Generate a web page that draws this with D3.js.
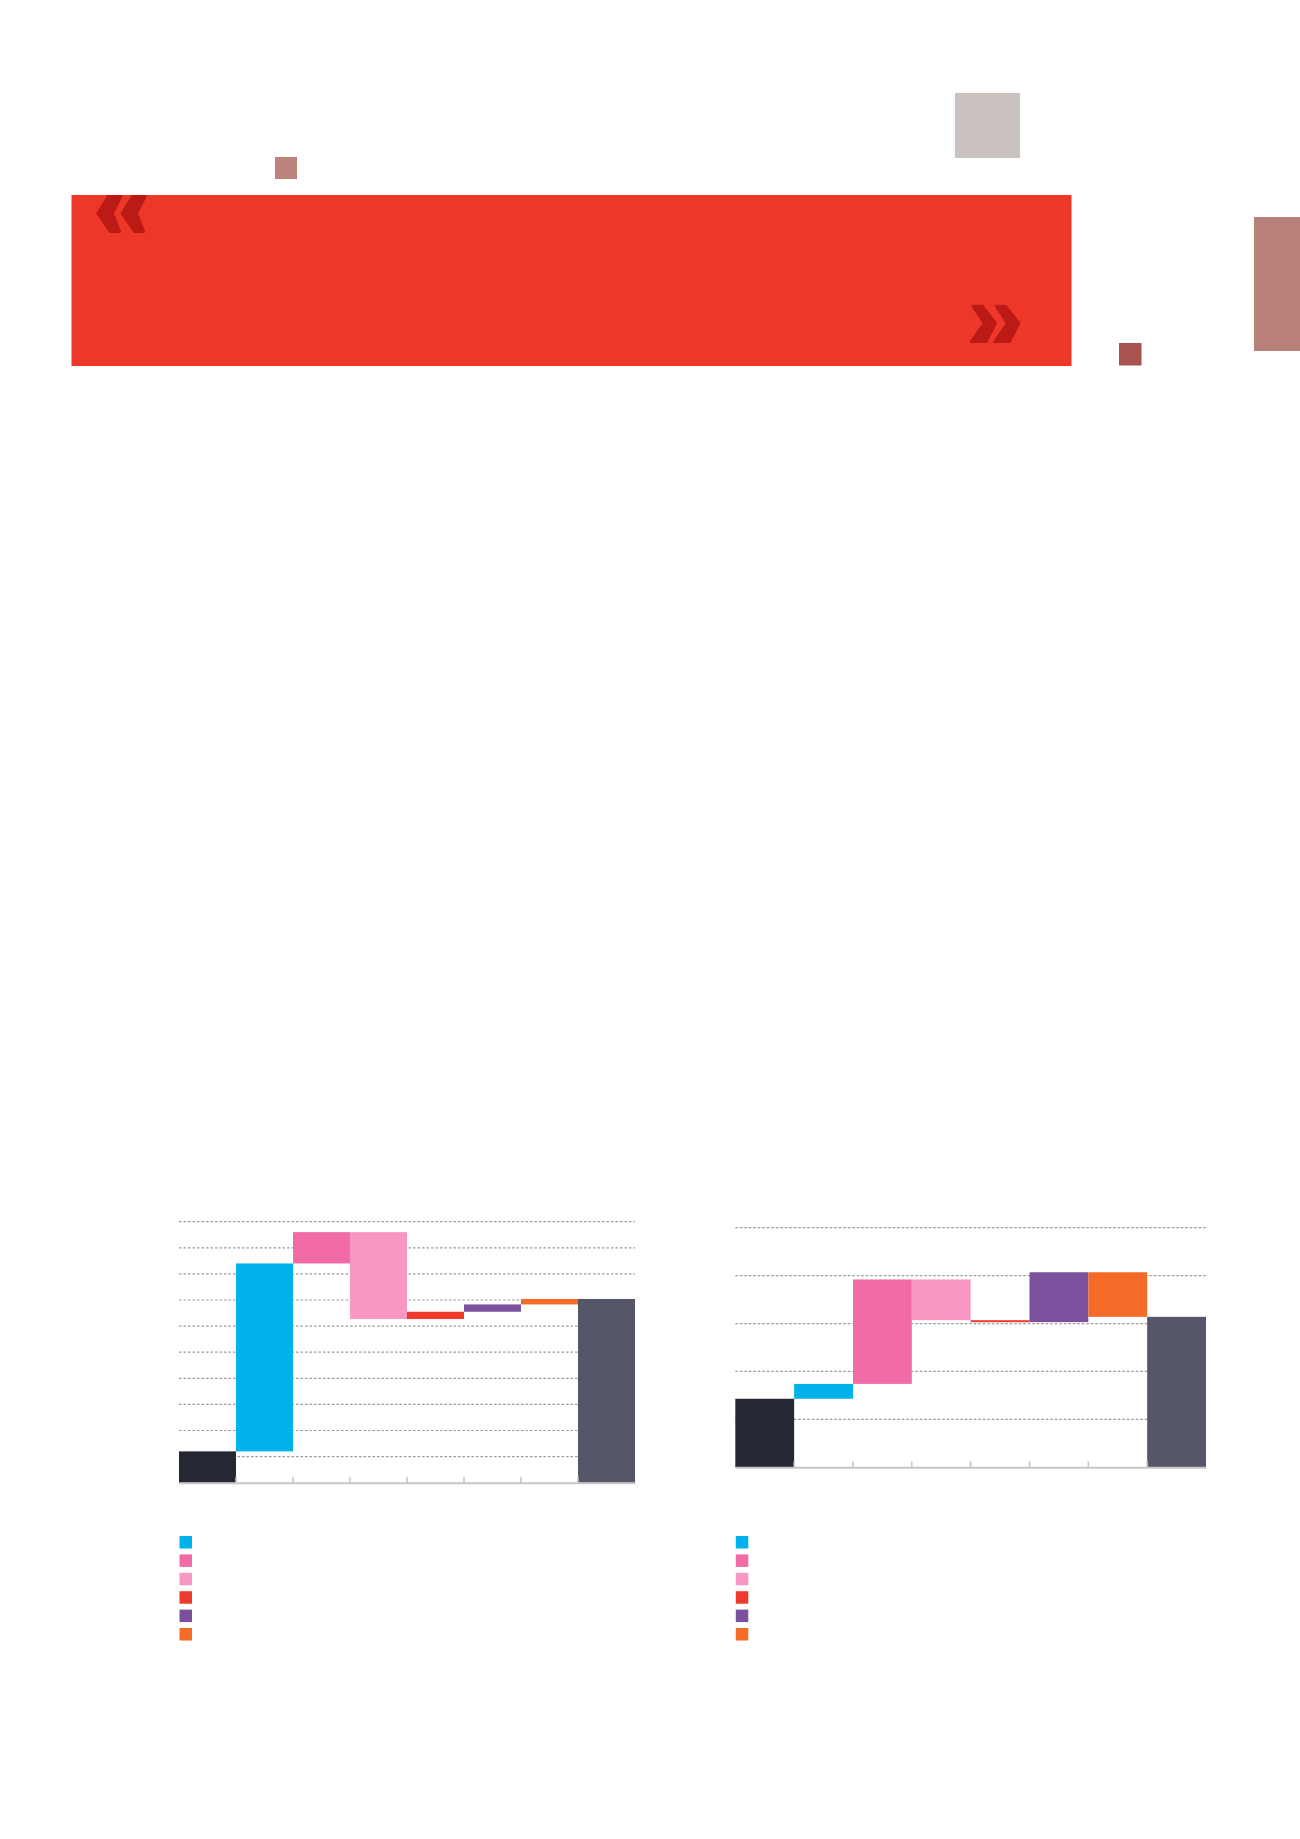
<!DOCTYPE html>
<html>
<head>
<meta charset="utf-8">
<script src="https://cdn.jsdelivr.net/npm/d3@7"></script>
<style>
  body { margin: 0; background: #fff; }
  svg { display: block; }
</style>
</head>
<body>
<div id="svg-content"></div>
<script>
// left chart: opening value, six movements, closing value
var leftSteps = ['open', 'a', 'b', 'c', 'd', 'e', 'f', 'close'];
var leftStart = 12.0;
var leftDeltas = [72.0, 12.0, -33.3, 2.8, 2.8, 2.1];
var leftTicks = [0, 10, 20, 30, 40, 50, 60, 70, 80, 90, 100];

// right chart
var rightSteps = ['open', 'a', 'b', 'c', 'd', 'e', 'f', 'close'];
var rightStart = 14.3;
var rightDeltas = [3.1, 21.8, -8.5, -0.4, 10.4, -9.3];
var rightTicks = [0, 10, 20, 30, 40, 50];

var stepColors = ['#252733', '#00b2eb', '#f16ca7', '#f898c2', '#ee3a2c', '#7b519d', '#f46b27', '#565669'];
var legendColors = ['#00b2eb', '#f16ca7', '#f898c2', '#ee3a2c', '#7b519d', '#f46b27'];

var svg = d3.select('#svg-content').append('svg').attr('width', 1300).attr('height', 1839);

// page decoration
svg.append('rect').attr('x', 275).attr('y', 157).attr('width', 22).attr('height', 22).attr('fill', '#bc827c');
svg.append('rect').attr('x', 955).attr('y', 93).attr('width', 65).attr('height', 65).attr('fill', '#cac2bf');
svg.append('rect').attr('x', 71.5).attr('y', 195).attr('width', 1000).attr('height', 171).attr('fill', '#ec3729');
svg.append('rect').attr('x', 1119).attr('y', 343).attr('width', 22.5).attr('height', 22.5).attr('fill', '#a85252');
svg.append('rect').attr('x', 1254).attr('y', 217).attr('width', 46).attr('height', 134).attr('fill', '#ba807a');

function chevron(pts, dx) {
    return 'M' + pts.map(function (p) { return (p[0] + dx) + ',' + p[1]; }).join('L') + 'Z';
}
var openQuote = [[108.5, 196], [121.5, 196], [112.5, 213.3], [119.8, 231.7], [110.3, 231.7], [97.5, 213.3]];
var closeQuote = [[972.7, 306], [982.3, 306], [995.8, 323.3], [986.3, 341.7], [971.2, 341.7], [984, 323.3]];
[0, 24.2].forEach(function (dx) {
    svg.append('path').attr('d', chevron(openQuote, dx)).attr('fill', '#bb1a17').attr('stroke', '#bb1a17').attr('stroke-linejoin', 'round').attr('stroke-width', 2.5);
});
[0, 23.3].forEach(function (dx) {
    svg.append('path').attr('d', chevron(closeQuote, dx)).attr('fill', '#bb1a17').attr('stroke', '#bb1a17').attr('stroke-linejoin', 'round').attr('stroke-width', 2.5);
});
// clip the top of the opening quote at the banner edge
svg.append('rect').attr('x', 90).attr('y', 185).attr('width', 70).attr('height', 10).attr('fill', '#fff');

function waterfall(start, deltas) {
    var rows = [{ y0: 0, y1: start }];
    var level = start;
    deltas.forEach(function (d) {
        rows.push({ y0: level, y1: level + d });
        level += d;
    });
    rows.push({ y0: 0, y1: level });
    return rows;
}

function drawChart(opts) {
    var g = svg.append('g');
    var x = d3.scaleBand().domain(opts.steps).range([opts.left, opts.right]).padding(0);
    var y = d3.scaleLinear().domain([0, d3.max(opts.ticks)]).range([opts.bottom, opts.top]);
    var rows = waterfall(opts.start, opts.deltas);

    // dotted gridlines
    g.selectAll('line.grid')
        .data(opts.ticks.slice(1))
        .enter()
        .append('line')
        .attr('class', 'grid')
        .attr('x1', opts.left)
        .attr('x2', opts.right)
        .attr('y1', function (d) { return y(d); })
        .attr('y2', function (d) { return y(d); })
        .attr('stroke', '#9a9a9a')
        .attr('stroke-width', 1.2)
        .attr('stroke-dasharray', '2.5,2');

    g.selectAll('rect.bar')
        .data(rows)
        .enter()
        .append('rect')
        .attr('class', 'bar')
        .attr('x', function (d, i) { return x(opts.steps[i]); })
        .attr('width', x.bandwidth())
        .attr('y', function (d) { return y(Math.max(d.y0, d.y1)); })
        .attr('height', function (d) { return Math.max(2, Math.abs(y(d.y0) - y(d.y1))); })
        .attr('fill', function (d, i) { return stepColors[i]; });

    // base axis with ticks at the bar boundaries
    var axis = d3.axisBottom(x).tickSize(0).tickFormat('');
    var ax = g.append('g').attr('transform', 'translate(0,' + opts.bottom + ')').call(axis);
    ax.select('.domain').attr('stroke', '#c6c6c6').attr('stroke-width', 2);
    g.selectAll('line.tick')
        .data(opts.steps.slice(1))
        .enter()
        .append('line')
        .attr('class', 'tick')
        .attr('x1', function (d) { return x(d); })
        .attr('x2', function (d) { return x(d); })
        .attr('y1', opts.bottom)
        .attr('y2', opts.bottom - 6)
        .attr('stroke', '#c6c6c6')
        .attr('stroke-width', 1.5);

    // legend swatches
    g.selectAll('rect.key')
        .data(legendColors)
        .enter()
        .append('rect')
        .attr('class', 'key')
        .attr('x', opts.left + 0.5)
        .attr('y', function (d, i) { return 1536 + i * 18.4; })
        .attr('width', 12.5)
        .attr('height', 12.5)
        .attr('fill', function (d) { return d; });
}

drawChart({ steps: leftSteps, start: leftStart, deltas: leftDeltas, ticks: leftTicks,
    left: 179, right: 635, top: 1221.7, bottom: 1482.7 });
drawChart({ steps: rightSteps, start: rightStart, deltas: rightDeltas, ticks: rightTicks,
    left: 735.3, right: 1206, top: 1227.7, bottom: 1467.3 });
</script>
</body>
</html>
